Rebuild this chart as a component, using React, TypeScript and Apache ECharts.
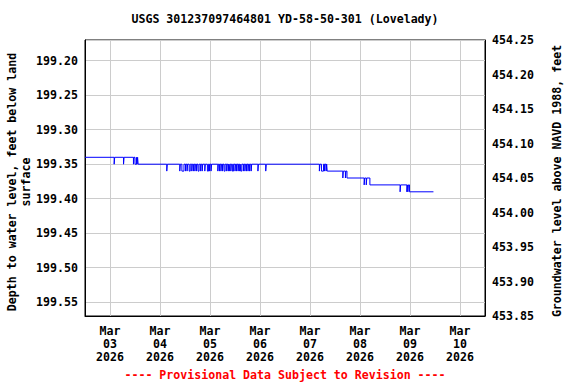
import React, { useEffect, useRef } from "react";
import * as echarts from "echarts";

const chartTitle = "USGS 301237097464801 YD-58-50-301 (Lovelady)";
const leftAxisName = "Depth to water level, feet below land\nsurface";
const rightAxisName = "Groundwater level above NAVD 1988, feet";
const footnote = "---- Provisional Data Subject to Revision ----";
const monthNames = ["Jan", "Feb", "Mar", "Apr", "May", "Jun", "Jul", "Aug", "Sep", "Oct", "Nov", "Dec"];
const year = "2026";
const xStart = "2026-03-02 12:00";
const xEnd = "2026-03-10 12:00";
const depthMin = 199.17;
const depthMax = 199.57;
const elevMin = 453.85;
const elevMax = 454.25;
const elevInterval = 0.05;

// change points of the depth record (time "MM-DD hh:mm", depth in feet below land surface)
const readings: [string, number][] = [
  ["03-02 12:00", 199.34],
  ["03-03 02:00", 199.35], ["03-03 02:15", 199.34],
  ["03-03 06:30", 199.35], ["03-03 06:45", 199.34],
  ["03-03 11:15", 199.35], ["03-03 11:30", 199.34],
  ["03-03 12:00", 199.35],
  ["03-03 12:45", 199.34], ["03-03 13:00", 199.35],
  ["03-03 13:15", 199.34], ["03-03 13:30", 199.35],
  ["03-04 03:15", 199.36], ["03-04 03:30", 199.35],
  ["03-04 09:30", 199.36], ["03-04 09:45", 199.35],
  ["03-04 10:30", 199.36], ["03-04 11:30", 199.35],
  ["03-04 12:15", 199.36], ["03-04 12:30", 199.35],
  ["03-04 13:00", 199.36], ["03-04 13:15", 199.35],
  ["03-04 14:00", 199.36], ["03-04 14:30", 199.35],
  ["03-04 15:15", 199.36], ["03-04 15:30", 199.35],
  ["03-04 16:00", 199.36], ["03-04 16:15", 199.35],
  ["03-04 16:45", 199.36], ["03-04 17:00", 199.35],
  ["03-04 17:30", 199.36], ["03-04 17:45", 199.35],
  ["03-04 18:15", 199.36], ["03-04 18:45", 199.35],
  ["03-04 19:30", 199.36], ["03-04 19:45", 199.35],
  ["03-04 20:15", 199.36], ["03-04 20:30", 199.35],
  ["03-04 21:30", 199.36], ["03-04 21:45", 199.35],
  ["03-04 22:45", 199.36], ["03-04 23:15", 199.35],
  ["03-04 23:45", 199.36], ["03-05 00:00", 199.35],
  ["03-05 00:30", 199.36], ["03-05 00:45", 199.35],
  ["03-05 03:45", 199.36], ["03-05 04:00", 199.35],
  ["03-05 04:30", 199.36], ["03-05 04:45", 199.35],
  ["03-05 05:15", 199.36], ["03-05 05:30", 199.35],
  ["03-05 06:00", 199.36], ["03-05 06:15", 199.35],
  ["03-05 06:45", 199.36], ["03-05 07:15", 199.35],
  ["03-05 08:00", 199.36], ["03-05 08:15", 199.35],
  ["03-05 08:45", 199.36], ["03-05 09:00", 199.35],
  ["03-05 09:15", 199.36], ["03-05 09:30", 199.35],
  ["03-05 10:00", 199.36], ["03-05 10:15", 199.35],
  ["03-05 10:45", 199.36], ["03-05 11:15", 199.35],
  ["03-05 12:00", 199.36], ["03-05 12:15", 199.35],
  ["03-05 12:45", 199.36], ["03-05 13:00", 199.35],
  ["03-05 13:30", 199.36], ["03-05 13:45", 199.35],
  ["03-05 14:15", 199.36], ["03-05 14:30", 199.35],
  ["03-05 14:45", 199.36], ["03-05 15:15", 199.35],
  ["03-05 16:00", 199.36], ["03-05 16:15", 199.35],
  ["03-05 16:45", 199.36], ["03-05 17:00", 199.35],
  ["03-05 17:30", 199.36], ["03-05 17:45", 199.35],
  ["03-05 18:15", 199.36], ["03-05 18:30", 199.35],
  ["03-05 19:00", 199.36], ["03-05 19:15", 199.35],
  ["03-05 19:45", 199.36], ["03-05 20:00", 199.35],
  ["03-05 23:00", 199.36], ["03-05 23:15", 199.35],
  ["03-06 02:45", 199.36], ["03-06 03:00", 199.35],
  ["03-07 04:30", 199.36], ["03-07 04:45", 199.35],
  ["03-07 05:30", 199.36], ["03-07 06:30", 199.35],
  ["03-07 07:00", 199.36], ["03-07 07:15", 199.35],
  ["03-07 07:45", 199.36], ["03-07 08:00", 199.35],
  ["03-07 08:15", 199.36],
  ["03-07 15:45", 199.37], ["03-07 16:00", 199.36],
  ["03-07 17:00", 199.37], ["03-07 17:15", 199.36],
  ["03-07 17:45", 199.37],
  ["03-08 02:00", 199.38], ["03-08 02:15", 199.37],
  ["03-08 03:00", 199.38], ["03-08 03:15", 199.37],
  ["03-08 04:45", 199.38],
  ["03-08 19:15", 199.39], ["03-08 19:30", 199.38],
  ["03-08 22:30", 199.39], ["03-08 22:45", 199.38],
  ["03-08 23:00", 199.39], ["03-08 23:15", 199.38],
  ["03-08 23:45", 199.39],
  ["03-09 11:15", 199.39],
];

const FONT_FAMILY = "'DejaVu Sans Mono', monospace";
const FONT_SIZE = 11.6;
const FONT = `bold ${FONT_SIZE}px ${FONT_FAMILY}`;

export default function App() {
  const ref = useRef<HTMLDivElement>(null);

  useEffect(() => {
    if (!ref.current) return;
    const chart = echarts.init(ref.current, undefined, { renderer: "svg" });
    const pad = (n: number) => (n < 10 ? "0" + n : "" + n);
    const labelStyle = {
      fontFamily: FONT_FAMILY,
      fontWeight: "bold" as const,
      fontSize: FONT_SIZE,
      color: "#000",
    };
    chart.setOption({
      animation: false,
      backgroundColor: "#fff",
      grid: {
        left: 85,
        right: 91,
        top: 40,
        bottom: 68,
        show: true,
        borderColor: "#000",
        borderWidth: 1,
        backgroundColor: "#fff",
      },
      xAxis: {
        type: "time",
        min: xStart,
        max: xEnd,
        minInterval: 86400000,
        maxInterval: 86400000,
        axisLine: { show: true, lineStyle: { color: "#000", width: 1 } },
        axisTick: { show: false },
        splitLine: { show: true, lineStyle: { color: "#cccccc", width: 1 } },
        axisLabel: {
          ...labelStyle,
          margin: 8,
          lineHeight: 13,
          hideOverlap: false,
          formatter: (v: number) => {
            const d = new Date(v);
            if (d.getHours() !== 0 || d.getMinutes() !== 0) return "";
            return `${monthNames[d.getMonth()]}\n${pad(d.getDate())}\n${d.getFullYear()}`;
          },
        },
      },
      yAxis: [
        {
          type: "value",
          inverse: true,
          min: depthMin,
          max: depthMax,
          splitNumber: 8,
          position: "left",
          axisLine: { show: true, lineStyle: { color: "#000", width: 1 } },
          axisTick: { show: false },
          splitLine: { show: true, lineStyle: { color: "#cccccc", width: 1 } },
          axisLabel: {
            ...labelStyle,
            margin: 7,
            showMinLabel: false,
            showMaxLabel: false,
            formatter: (v: number) =>
              Math.abs(v * 20 - Math.round(v * 20)) < 1e-6 ? v.toFixed(2) : "",
          },
        },
        {
          type: "value",
          min: elevMin,
          max: elevMax,
          interval: elevInterval,
          position: "right",
          axisLine: { show: true, lineStyle: { color: "#000", width: 1 } },
          axisTick: { show: false },
          splitLine: { show: false },
          axisLabel: {
            ...labelStyle,
            margin: 7,
            formatter: (v: number) => v.toFixed(2),
          },
        },
      ],
      series: [
        {
          type: "line",
          yAxisIndex: 0,
          step: "end",
          symbol: "none",
          showSymbol: false,
          clip: true,
          lineStyle: { color: "#0000ff", width: 1 },
          data: readings.map(([t, v]) => [`${year}-${t}`, v]),
        },
      ],
      graphic: [
        {
          type: "text",
          x: 285,
          y: 19,
          style: {
            text: chartTitle,
            font: FONT,
            fill: "#000",
            textAlign: "center",
            textVerticalAlign: "middle",
            align: "center",
            verticalAlign: "middle",
          },
        },
        {
          type: "text",
          x: 19,
          y: 182,
          rotation: Math.PI / 2,
          style: {
            text: leftAxisName,
            font: FONT,
            fill: "#000",
            lineHeight: 14,
            textAlign: "center",
            textVerticalAlign: "middle",
            align: "center",
            verticalAlign: "middle",
          },
        },
        {
          type: "text",
          x: 557,
          y: 181,
          rotation: Math.PI / 2,
          style: {
            text: rightAxisName,
            font: FONT,
            fill: "#000",
            textAlign: "center",
            textVerticalAlign: "middle",
            align: "center",
            verticalAlign: "middle",
          },
        },
        {
          type: "text",
          x: 285,
          y: 375,
          style: {
            text: footnote,
            font: FONT,
            fill: "#ff0000",
            textAlign: "center",
            textVerticalAlign: "middle",
            align: "center",
            verticalAlign: "middle",
          },
        },
      ],
    });
    return () => chart.dispose();
  }, []);

  return (
    <div
      ref={ref}
      style={{ position: "fixed", left: 0, top: 0, width: 576, height: 384, background: "#fff" }}
    />
  );
}
